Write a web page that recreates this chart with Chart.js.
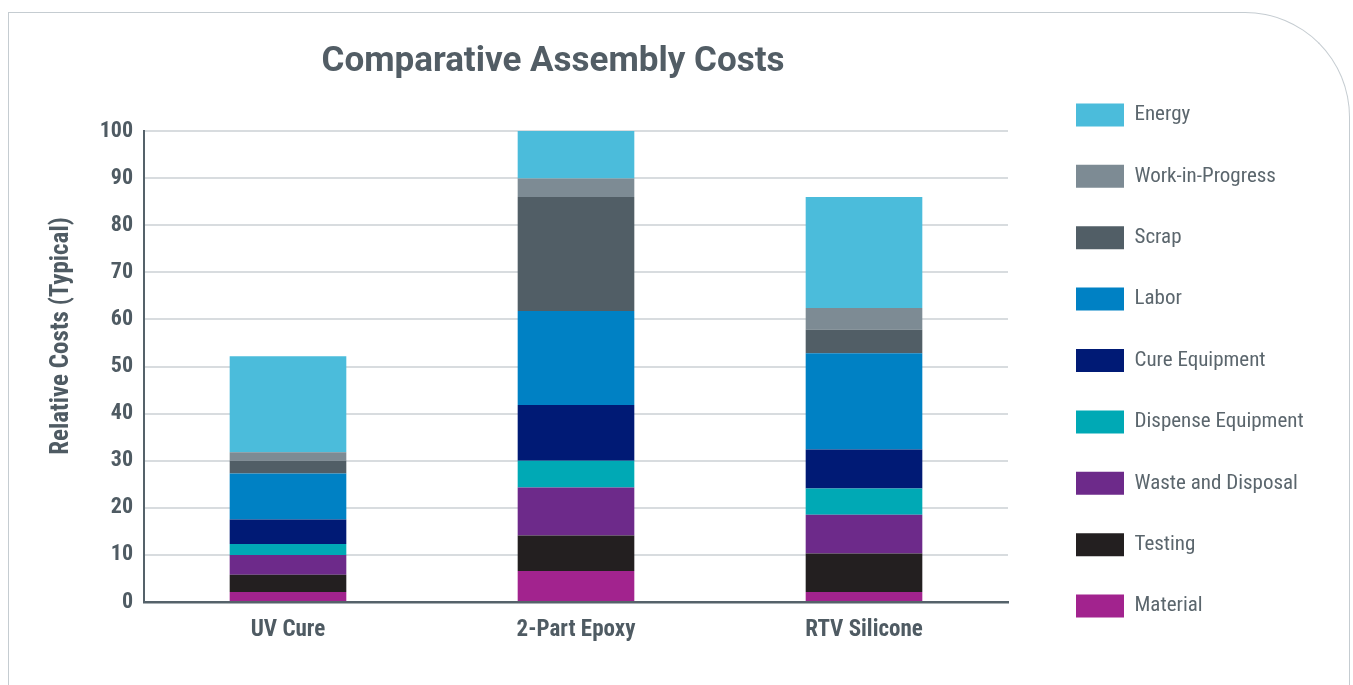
<!DOCTYPE html>
<html><head><meta charset="utf-8">
<script src="https://cdn.jsdelivr.net/npm/chart.js@4.4.1/dist/chart.umd.min.js"></script>
<style>
html,body{margin:0;padding:0;background:#fff;width:1353px;height:685px;overflow:hidden;}
#frame{position:absolute;left:8px;top:12px;width:1342px;height:720px;border:1.5px solid #c5ccd1;border-bottom:none;border-top-right-radius:105px;box-sizing:border-box;}
#wrap{position:absolute;left:0;top:0;width:1353px;height:685px;}
</style></head><body>
<div id="frame"></div>
<div id="wrap"><canvas id="c" width="1353" height="685"></canvas></div>
<script>
// ---- data ----
const categories = ['UV Cure', '2-Part Epoxy', 'RTV Silicone'];
const material  = [2.1, 6.6, 2.1];
const testing   = [3.7, 7.5, 8.2];
const waste     = [4.2, 10.2, 8.2];
const dispense  = [2.3, 5.7, 5.6];
const cureEquip = [5.2, 11.8, 8.3];
const labor     = [9.8, 20.0, 20.4];
const scrap     = [2.7, 24.2, 5.0];
const wip       = [1.8, 3.9, 4.6];
const energy    = [20.4, 10.1, 23.6];
const yTicks = [0,10,20,30,40,50,60,70,80,90,100];

// ---- fonts ----
const mctx = document.createElement('canvas').getContext('2d');
function hasFont(name){
  const s='Dispense Equipment 0123456789 Wgy';
  mctx.font='40px monospace'; const a=mctx.measureText(s).width;
  mctx.font='40px "'+name+'", monospace'; const b=mctx.measureText(s).width;
  return Math.abs(a-b)>0.5;
}
let COND = 'Roboto';
for (const n of ['Roboto Condensed','Liberation Sans Narrow','Arial Narrow','DejaVu Sans Condensed']) { if (hasFont(n)) { COND = '"'+n+'"'; break; } }
const FAM = COND + ', Roboto, sans-serif';

const TEXT = '#4f5b63';
const LEG_TEXT = '#5b666d';
const LEG_PAD = 38.4;
const legendFont = {family: FAM, size: 21, weight: 'normal'};

const seriesDefs = [
  ['Material', material, '#a2238e'],
  ['Testing', testing, '#231f20'],
  ['Waste and Disposal', waste, '#6d2a8a'],
  ['Dispense Equipment', dispense, '#00a9b5'],
  ['Cure Equipment', cureEquip, '#001a75'],
  ['Labor', labor, '#0081c4'],
  ['Scrap', scrap, '#515e66'],
  ['Work-in-Progress', wip, '#7d8b94'],
  ['Energy', energy, '#4bbcdb']
];

// legend width -> right padding so legend boxes start near x=1076
mctx.font = 'normal 21px ' + FAM;
let maxW = 0; seriesDefs.forEach(s => { maxW = Math.max(maxW, mctx.measureText(s[0]).width); });
const legendW = LEG_PAD + 48 + 10.5 + maxW + 10;
const padR = Math.max(0, 1353 - 1076 + LEG_PAD - legendW);

const titleBox = {
  position: 'top', weight: -10, fullSize: false, options: {},
  top: 0, left: 0, right: 0, bottom: 0, width: 0, height: 0,
  isHorizontal() { return true; },
  update(maxWidth) { this.width = maxWidth; this.height = 66; },
  draw() {
    const ctx = this.chart.ctx;
    ctx.save();
    ctx.font = 'bold 35px Roboto, sans-serif';
    ctx.fillStyle = '#525d65';
    ctx.textAlign = 'center';
    ctx.textBaseline = 'alphabetic';
    ctx.fillText('Comparative Assembly Costs', 553, 71);
    ctx.restore();
  }
};
const spacerBox = {
  position: 'right', weight: 0, fullSize: false, options: {},
  top: 0, left: 0, right: 0, bottom: 0, width: 0, height: 0,
  isHorizontal() { return false; },
  update(maxWidth, maxHeight) { this.width = 1076 - LEG_PAD - 1008; this.height = maxHeight; },
  draw() {}
};
const boxesPlugin = {
  id: 'customBoxes',
  beforeInit(chart) {
    titleBox.chart = chart; spacerBox.chart = chart;
    Chart.layouts.addBox(chart, titleBox);
    Chart.layouts.addBox(chart, spacerBox);
  },
  afterDraw(chart) {
    const ctx = chart.ctx;
    ctx.save();
    ctx.translate(62, 336);
    ctx.rotate(-Math.PI / 2);
    ctx.font = 'bold 25px ' + FAM;
    ctx.fillStyle = TEXT;
    ctx.textAlign = 'center';
    ctx.textBaseline = 'middle';
    ctx.fillText('Relative Costs (Typical)', 0, 0);
    ctx.restore();
  }
};

new Chart(document.getElementById('c'), {
  type: 'bar',
  data: {
    labels: categories,
    datasets: seriesDefs.map(s => ({
      label: s[0], data: s[1], backgroundColor: s[2], borderWidth: 0,
      barPercentage: 0.405, categoryPercentage: 1
    }))
  },
  options: {
    responsive: false,
    animation: false,
    layout: {padding: {left: 0, top: 65, right: padR, bottom: 0}},
    plugins: {
      title: {display: false},
      tooltip: {enabled: false},
      legend: {
        position: 'right', align: 'start', reverse: true, maxWidth: 400,
        labels: {boxWidth: 48, boxHeight: 23, padding: LEG_PAD, color: LEG_TEXT, font: legendFont}
      }
    },
    scales: {
      x: {
        stacked: true,
        grid: {display: false, drawTicks: false},
        border: {display: true, color: '#55626a', width: 2.5},
        ticks: {color: TEXT, font: {family: FAM, size: 23, weight: 'bold'}, padding: 14},
        afterFit(s) { s.height = 83; }
      },
      y: {
        stacked: true, min: 0, max: 100,
        afterBuildTicks(s) { s.ticks = yTicks.map(v => ({value: v})); },
        grid: {color: '#d8dcdf', lineWidth: 2, drawTicks: false},
        border: {display: true, color: '#55626a', width: 2},
        ticks: {color: TEXT, font: {family: FAM, size: 22, weight: 'bold'}, padding: 11},
        afterFit(s) { s.width = 144; }
      }
    }
  },
  plugins: [boxesPlugin]
});
</script>
</body></html>
